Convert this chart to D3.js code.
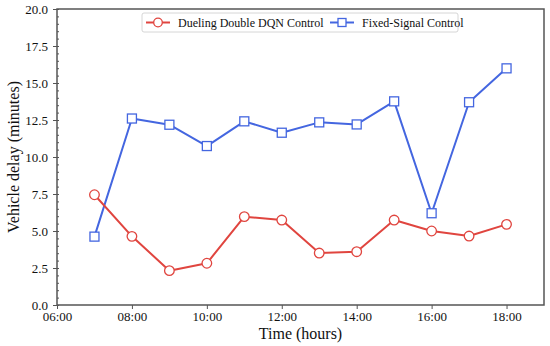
<!DOCTYPE html>
<html>
<head>
<meta charset="utf-8">
<script src="https://cdn.jsdelivr.net/npm/d3@7"></script>
<style>
  body { margin: 0; background: #fff; }
  text { font-family: "Liberation Serif", "Times New Roman", serif; }
</style>
</head>
<body>
<svg id="chart" width="550" height="346"></svg>
<script>
// Hours of the day (x) and the delay of each control scheme (y, minutes)
const hours = [7, 8, 9, 10, 11, 12, 13, 14, 15, 16, 17, 18];
const duelingDelay = [7.45, 4.64, 2.32, 2.82, 5.97, 5.74, 3.51, 3.60, 5.74, 5.00, 4.66, 5.45];
const fixedDelay = [4.62, 12.60, 12.18, 10.74, 12.41, 11.64, 12.34, 12.20, 13.76, 6.20, 13.70, 15.99];
const xTicks = [6, 8, 10, 12, 14, 16, 18];
const yTicks = [0, 2.5, 5, 7.5, 10, 12.5, 15, 17.5, 20];
const seriesNames = ["Dueling Double DQN Control", "Fixed-Signal Control"];

const svg = d3.select('#chart');
const margin = { top: 9, right: 6, bottom: 41, left: 57 };
const width = +svg.attr("width") - margin.left - margin.right;
const height = +svg.attr("height") - margin.top - margin.bottom;
const g = svg.append("g").attr("transform", `translate(${margin.left},${margin.top})`);

const x = d3.scaleLinear().domain([6, 19]).range([0, width]);
const y = d3.scaleLinear().domain([0, 20]).range([height, 0]);

const fmtHour = h => String(h).padStart(2, "0") + ":00";

// minor ticks on y (inside the frame)
g.append("g")
    .call(d3.axisLeft(y).tickValues(d3.range(0, 20.01, 0.5)).tickSize(-2).tickFormat(""))
    .call(a => a.select(".domain").remove())
    .selectAll("line").attr("stroke", "#555");

// x axis
const xAxis = g.append("g")
    .attr("transform", `translate(0,${height})`)
    .call(d3.axisBottom(x).tickValues(xTicks).tickFormat(fmtHour).tickSize(4).tickPadding(3));
xAxis.select(".domain").remove();
xAxis.selectAll("line").attr("stroke", "#555");
xAxis.selectAll("text").attr("font-size", 13).attr("fill", "#111")
    .style("font-family", "'Liberation Serif', serif");

// y axis
const yAxis = g.append("g")
    .call(d3.axisLeft(y).tickValues(yTicks).tickFormat(d3.format(".1f")).tickSize(4).tickPadding(5));
yAxis.select(".domain").remove();
yAxis.selectAll("line").attr("stroke", "#555");
yAxis.selectAll("text").attr("font-size", 13).attr("fill", "#111")
    .style("font-family", "'Liberation Serif', serif");

// frame
g.append("rect")
    .attr("width", width)
    .attr("height", height)
    .attr("fill", "none")
    .attr("stroke", "#555")
    .attr("stroke-width", 1.5);

// axis titles
svg.append("text")
    .attr("x", margin.left + width / 2)
    .attr("y", 339)
    .attr("text-anchor", "middle")
    .attr("font-size", 16)
    .attr("fill", "#111")
    .text("Time (hours)");

svg.append("text")
    .attr("transform", `translate(19,${margin.top + height / 2}) rotate(-90)`)
    .attr("text-anchor", "middle")
    .attr("font-size", 16)
    .attr("fill", "#111")
    .text("Vehicle delay (minutes)");

const red = "#e0453f";
const blue = "#4466e0";

const lineFor = vals => d3.line()
    .x((d, i) => x(hours[i]))
    .y(d => y(d))(vals);

// Fixed-signal series
g.append("path")
    .attr("d", lineFor(fixedDelay))
    .attr("fill", "none")
    .attr("stroke", blue)
    .attr("stroke-width", 2)
    .attr("stroke-linejoin", "round");

g.selectAll(".sq")
    .data(fixedDelay)
    .join("rect")
    .attr("class", "sq")
    .attr("x", (d, i) => x(hours[i]) - 4.5)
    .attr("y", d => y(d) - 4.5)
    .attr("width", 9)
    .attr("height", 9)
    .attr("fill", "#fff")
    .attr("stroke", blue)
    .attr("stroke-width", 1.3);

// Dueling series
g.append("path")
    .attr("d", lineFor(duelingDelay))
    .attr("fill", "none")
    .attr("stroke", red)
    .attr("stroke-width", 2)
    .attr("stroke-linejoin", "round");

g.selectAll(".circ")
    .data(duelingDelay)
    .join("circle")
    .attr("class", "circ")
    .attr("cx", (d, i) => x(hours[i]))
    .attr("cy", d => y(d))
    .attr("r", 4.8)
    .attr("fill", "#fff")
    .attr("stroke", red)
    .attr("stroke-width", 1.3);

// legend
const legend = svg.append("g").attr("transform", "translate(142,13)");
legend.append("rect")
    .attr("width", 316)
    .attr("height", 19)
    .attr("rx", 2)
    .attr("fill", "#fff")
    .attr("stroke", "#ccc")
    .attr("stroke-width", 0.8);

const items = [
    { name: seriesNames[0], color: red, shape: "circle", x: 4 },
    { name: seriesNames[1], color: blue, shape: "square", x: 188 }
];
items.forEach(it => {
    const row = legend.append("g").attr("transform", `translate(${it.x},9.5)`);
    row.append("line").attr("x1", 0).attr("x2", 24)
        .attr("stroke", it.color).attr("stroke-width", 2);
    if (it.shape === "circle") {
        row.append("circle").attr("cx", 12).attr("r", 4.3)
            .attr("fill", "#fff").attr("stroke", it.color).attr("stroke-width", 1.3);
    } else {
        row.append("rect").attr("x", 8).attr("y", -4).attr("width", 8).attr("height", 8)
            .attr("fill", "#fff").attr("stroke", it.color).attr("stroke-width", 1.3);
    }
    row.append("text").attr("x", 32)
        .attr("dy", "0.35em")
        .attr("font-size", 12)
        .attr("fill", "#111")
        .text(it.name);
});
</script>
</body>
</html>
